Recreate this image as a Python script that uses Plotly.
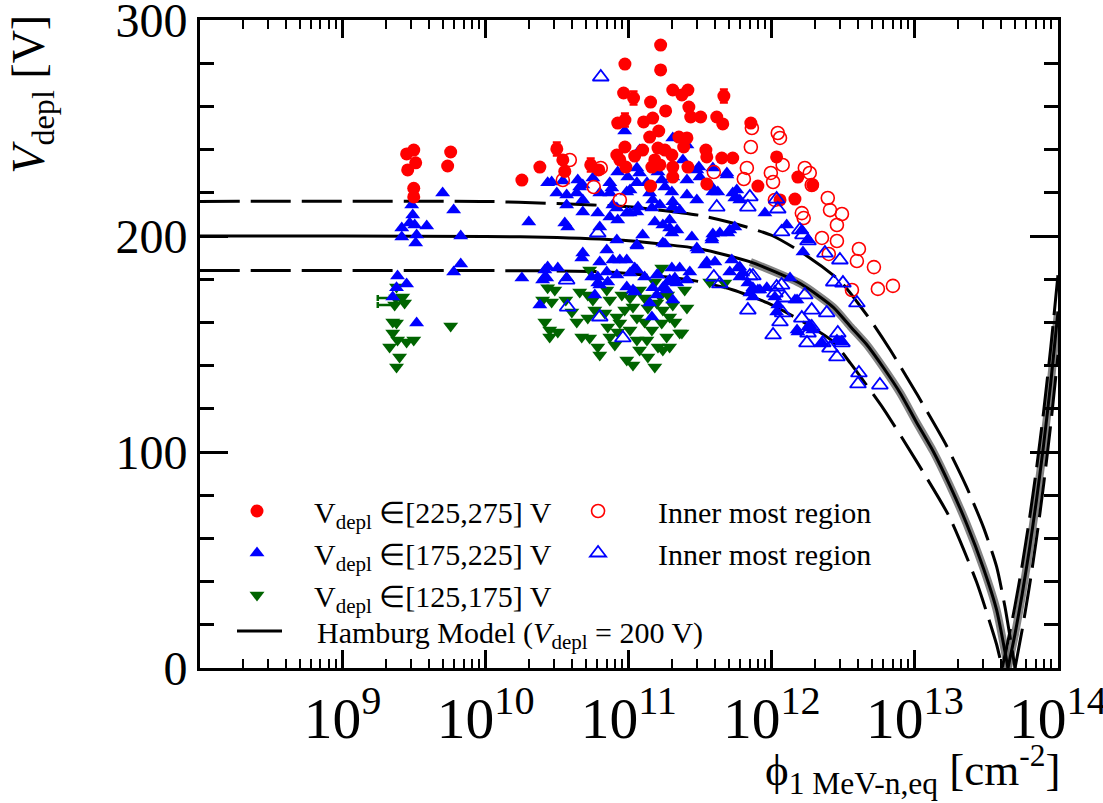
import plotly.graph_objects as go

# ---------------- measurements: fluence [cm^-2] and depletion voltage [V] ----------------
red_phi = [1.67e11, 9.4e10, 1.67e11, 9.2e10, 1.08e11, 1.42e11, 2.03e11, 2.35e11, 2.59e11, 4.62e11,
           1.81e11, 2.63e11, 2.71e11, 3.18e11, 4.12e11, 4.54e11, 7.13e11, 8.37e10, 9.4e10, 1.27e11,
           1.47e11, 1.62e11, 1.40e11, 2.24e11, 2.55e11, 2.42e11, 9.4e10, 3.14e10, 3.46e10, 2.39e10,
           1.79e10, 3.57e10, 5.42e10, 6.17e10, 8.25e10, 8.66e10, 9.54e10, 1.10e11, 1.25e11, 1.60e11,
           1.79e11, 2.00e11, 1.52e11, 1.45e11, 1.65e11, 2.03e11, 2.03e11, 2.59e11, 1.42e11, 3.46e11,
           3.51e11, 4.47e11, 5.33e11, 3.51e11, 7.99e11, 1.08e12, 1.52e12, 1.93e12, 1.45e12, 1.14e12,
           2.80e9, 3.14e9, 3.24e9, 2.85e9, 3.14e9, 3.14e9, 5.69e9, 5.42e9]
red_v = [288.4, 279.6, 276.9, 266.2, 263.9, 262.0, 267.6, 265.3, 267.6, 264.8,
         257.9, 259.7, 255.1, 255.1, 255.1, 251.9, 252.3, 252.3, 253.7, 252.8,
         254.6, 248.6, 245.8, 245.8, 245.4, 241.2, 241.2, 240.3, 235.2, 231.9,
         225.9, 229.9, 232.9, 230.6, 237.5, 235.2, 231.9, 237.0, 239.8, 240.7,
         239.8, 237.5, 235.2, 231.9, 232.9, 231.9, 227.3, 231.9, 223.1, 239.8,
         236.6, 236.1, 236.1, 224.1, 223.1, 236.6, 227.3, 223.6, 217.1, 216.7,
         238.0, 239.8, 233.9, 230.6, 222.1, 218.1, 238.9, 232.4]
red_err = [0, 0, 0, 0, 3, 0, 0, 0, 0, 3,
           0, 0, 0, 0, 0, 0, 0, 0, 3, 0,
           0, 0, 0, 0, 0, 0, 0, 3, 0, 0,
           0, 0, 3, 0, 0, 0, 0, 0, 0, 0,
           0, 0, 0, 0, 0, 0, 0, 0, 0, 0,
           0, 0, 0, 0, 0, 0, 0, 0, 0, 0,
           0, 0, 0, 0, 0, 0, 0, 0]

blue_phi = [5.0e9, 5.97e9, 6.69e9, 6.69e9, 5.97e9, 3.04e9, 3.09e9, 2.94e9, 3.19e9, 3.87e9,
            2.59e9, 2.59e9, 3.29e9, 3.24e9, 2.42e9, 2.80e9, 2.38e9, 2.24e9, 3.29e9,
            2.0e10, 1.79e10, 2.71e10, 2.59e10, 2.67e10, 2.39e10, 9.36e10, 1.19e11, 2.03e11, 2.55e11,
            2.89e10, 3.46e10, 4.40e10, 5.61e10, 4.77e10, 3.14e10, 3.68e10, 4.33e10, 4.54e10, 7.37e10,
            8.37e10, 9.84e10, 1.14e11, 1.60e11, 3.09e11, 3.87e11, 4.19e11, 4.85e11, 5.69e11, 5.97e11,
            8.94e11, 3.14e11, 2.55e11, 2.03e11, 1.79e11, 1.34e11, 1.14e11, 1.02e11, 7.37e10, 6.27e10,
            4.77e10, 3.68e10, 1.47e11, 2.03e11, 2.55e11, 2.99e11, 3.87e11, 7.61e10, 7.74e10, 9.68e10,
            1.16e11, 1.02e11, 1.19e11, 1.40e11, 1.70e11, 2.0e11, 2.03e11, 2.39e11, 2.99e11, 3.81e11,
            5.33e11, 5.51e11, 3.57e10, 3.74e10, 4.77e10, 6.07e10, 6.27e10, 7.37e10, 8.25e10, 9.68e10,
            1.14e11, 1.45e11, 1.65e11, 2.27e11, 1.52e11, 1.73e11, 1.93e11, 2.0e11, 8.37e10, 1.93e11,
            2.17e11, 8.25e10, 1.14e11, 1.25e11, 1.73e11, 2.76e11, 3.04e11, 3.87e11, 4.33e11, 4.93e11,
            5.51e11, 1.27e12, 1.62e12, 1.65e12, 1.79e12, 3.81e11, 5.08e11, 4.69e10, 7.02e10, 7.74e10,
            8.66e10, 9.68e10, 6.27e10, 4.77e10, 2.71e10, 3.19e10, 2.59e10, 3.68e10, 5.51e10, 6.07e10,
            7.02e10, 1.10e11, 1.29e11, 1.57e11, 2.0e11, 2.27e11, 2.67e11, 1.93e11, 2.10e11, 2.55e11,
            3.51e11, 4.0e11, 5.25e11, 5.79e11, 5.08e11, 5.97e11, 6.80e11, 7.37e11, 9.22e11, 8.25e11,
            1.34e12, 6.27e10, 9.68e10, 1.07e11, 1.47e11, 1.73e11, 2.03e11, 1.57e11, 5.79e10, 1.45e11,
            1.50e12, 1.50e12, 2.50e10, 6.07e10, 7.13e10, 8.25e10, 1.02e11, 1.14e11, 1.60e11, 1.87e11,
            2.17e11, 1.10e11, 1.40e11, 1.84e11, 3.40e11, 2.99e11, 3.81e11, 1.14e11, 1.79e11, 6.27e11,
            7.02e11, 7.99e11, 1.05e12, 1.10e12, 1.08e12, 1.45e12, 1.52e12, 1.79e12, 1.93e12, 2.24e12,
            2.85e12, 3.09e12, 5.97e11, 4.85e11, 7.37e11, 1.84e12]
blue_v = [219.9, 212.0, 200.0, 187.0, 183.3, 214.4, 209.7, 206.0, 205.1, 204.6,
          203.7, 199.5, 200.5, 196.8, 181.5, 177.8, 176.0, 171.8, 159.7,
          206.5, 180.6, 224.6, 184.3, 180.6, 168.1, 248.6, 239.8, 245.4, 242.1,
          225.0, 225.5, 225.9, 226.9, 223.6, 219.9, 219.0, 219.9, 222.7, 224.6,
          229.6, 227.3, 231.5, 229.6, 231.9, 231.5, 220.4, 229.2, 221.3, 216.7,
          210.6, 227.3, 225.9, 227.3, 222.7, 224.6, 224.6, 221.3, 219.9, 219.9,
          216.7, 214.4, 216.7, 215.8, 219.0, 216.7, 220.4, 222.2, 214.4, 220.4,
          213.4, 210.6, 229.2, 219.9, 225.9, 220.4, 213.4, 235.2, 230.6, 222.7,
          219.9, 217.6, 206.0, 204.2, 211.1, 210.6, 204.2, 208.8, 213.0, 210.6,
          211.1, 213.0, 214.4, 212.0, 206.5, 205.1, 203.7, 201.4, 207.4, 207.4,
          202.8, 198.1, 195.4, 200.5, 196.8, 199.5, 193.5, 200.9, 201.4, 201.4,
          204.2, 205.1, 202.8, 192.6, 198.1, 199.1, 202.8, 189.8, 193.5, 188.9,
          188.9, 188.9, 188.0, 192.1, 185.6, 185.2, 181.0, 180.6, 181.0, 181.0,
          183.3, 185.2, 181.0, 181.9, 185.2, 185.2, 183.3, 179.6, 180.6, 179.6,
          188.0, 188.0, 188.9, 185.2, 183.3, 181.0, 178.2, 176.0, 176.0, 175.0,
          180.6, 177.3, 176.4, 175.0, 176.0, 176.0, 170.4, 172.7, 172.7, 162.5,
          170.4, 156.5, 179.6, 178.2, 178.7, 181.9, 182.9, 184.3, 181.9, 178.7,
          178.2, 174.1, 169.0, 175.0, 186.6, 194.5, 198.1, 195.9, 196.3, 182.9,
          173.6, 175.0, 171.8, 168.1, 164.8, 170.4, 155.5, 157.9, 156.5, 150.5,
          151.9, 150.9, 185.6, 228.2, 171.8, 158.8]

green_phi = [2.38e9, 2.63e9, 2.35e9, 2.31e9, 2.71e9, 2.24e9, 2.38e9, 2.24e9, 2.42e9, 2.13e9,
             2.80e9, 3.14e9, 2.50e9, 2.38e9, 5.69e9,
             2.71e10, 3.04e10, 2.50e10, 2.89e10, 2.59e10, 2.80e10, 3.19e10, 2.80e10, 4.54e10, 5.17e10,
             5.61e10, 4.33e10, 4.69e10, 5.33e10, 6.07e10, 6.27e10, 7.02e10, 7.37e10, 6.80e10, 7.13e10,
             7.37e10, 8.25e10, 8.66e10, 1.02e11, 1.07e11, 1.02e11, 1.14e11, 1.34e11, 1.36e11, 9.68e10,
             1.07e11, 1.52e11, 1.70e11, 1.57e11, 1.73e11, 1.93e11, 1.70e11, 2.35e11, 1.84e11, 1.60e11,
             1.73e11, 1.93e11, 2.03e11, 2.55e11, 1.29e11, 1.14e11, 1.36e11, 8.37e10, 5.33e10, 3.68e11,
             4.69e11, 1.19e11, 1.29e11, 1.65e11, 1.45e11, 2.10e11, 1.87e11, 1.19e11, 7.99e10, 9.36e10,
             5.79e10, 3.63e10, 4.0e10, 2.27e11, 5.17e10, 8.94e10, 1.52e11, 2.46e11]
green_v = [176.4, 171.8, 171.3, 168.1, 169.0, 160.2, 159.7, 155.1, 151.9, 148.6,
           150.9, 151.9, 144.0, 139.4, 158.3,
           176.0, 175.0, 170.4, 169.5, 160.2, 156.5, 155.5, 153.2, 174.1, 172.7,
           170.4, 160.2, 153.2, 152.8, 148.6, 144.9, 175.0, 170.4, 164.4, 157.9,
           153.2, 162.5, 159.7, 171.3, 167.1, 156.5, 151.9, 151.9, 144.0, 142.6,
           140.3, 139.4, 185.2, 169.0, 165.7, 162.5, 159.7, 155.1, 153.2, 148.6,
           147.2, 148.6, 168.1, 166.7, 160.2, 162.0, 166.7, 155.5, 184.3, 178.7,
           178.2, 175.0, 171.3, 172.2, 156.5, 160.2, 172.7, 147.2, 149.5, 165.7,
           165.7, 170.4, 164.8, 155.1, 162.0, 172.7, 178.7, 175.0]
green_err_lo = [0, 0, 0.59e9, 0.55e9, 0, 0, 0, 0, 0, 0,
                0, 0, 0, 0, 0] + [0] * 68

red_in_phi = [3.87e10, 6.37e10, 3.46e10, 5.69e10, 8.66e10, 3.93e11, 7.25e11, 7.13e11, 1.10e12, 1.14e12,
              6.69e11, 6.37e11, 9.84e11, 1.19e12, 1.02e12, 1.05e12, 1.70e12, 1.84e12, 1.90e12, 2.46e12,
              2.55e12, 3.09e12, 1.62e12, 1.67e12, 2.85e12, 2.24e12, 2.85e12, 2.50e12, 4.06e12, 3.93e12,
              5.17e12, 3.63e12, 5.51e12, 7.02e12]
red_in_v = [235.2, 231.5, 225.9, 222.7, 216.7, 229.6, 250.0, 241.2, 247.7, 245.4,
            231.5, 226.4, 229.2, 232.9, 225.0, 216.7, 231.5, 229.2, 223.6, 217.6,
            212.0, 210.2, 210.6, 208.3, 205.1, 199.1, 197.7, 191.7, 194.0, 188.4,
            185.6, 175.0, 175.5, 176.9]

blue_in_phi = [6.37e10, 6.07e10, 3.74e10, 6.27e10, 9.09e10, 3.68e10, 4.12e11, 6.80e11, 7.02e11, 1.08e12,
               1.10e12, 1.17e12, 1.65e12, 1.79e12, 2.35e12, 2.99e12, 2.71e12, 3.14e12, 3.93e12, 7.02e11,
               7.37e11, 1.08e12, 1.17e12, 1.05e12, 1.23e12, 6.80e11, 1.70e12, 1.90e12, 2.42e12, 1.62e12,
               1.19e12, 1.14e12, 1.02e12, 1.90e12, 1.79e12, 1.76e12, 2.89e12, 2.27e12, 2.55e12, 3.09e12,
               2.85e12, 4.06e12, 4.0e12, 5.69e12, 3.93e11, 4.33e11, 1.57e12]
blue_in_v = [273.6, 201.4, 167.1, 162.5, 152.8, 179.6, 213.4, 213.4, 218.1, 217.1,
             212.5, 201.9, 200.5, 197.7, 192.1, 188.9, 178.7, 178.2, 169.0, 181.5,
             181.5, 176.4, 177.3, 173.6, 171.3, 165.7, 172.7, 165.7, 164.4, 162.0,
             164.4, 160.2, 154.2, 157.9, 155.1, 150.5, 155.1, 150.5, 148.1, 150.5,
             144.0, 136.6, 131.5, 131.0, 181.0, 177.8, 202.8]

# ---------------- Hamburg model curves (falling branch, then rising branch after inversion) ----------------
hm_phi_dn = [1e8, 1e9, 1e10, 3.16e10, 1e11, 3.16e11, 7.08e11, 1.58e12, 2.69e12, 3.55e12,
             4.57e12, 6.03e12, 7.94e12, 1.02e13, 1.35e13, 1.74e13, 2.29e13, 3.02e13, 3.72e13, 4.47e13]
hm_v_dn = [200, 200, 199.8, 199.3, 197.8, 194, 188, 178, 167, 158,
           150, 139, 127, 114, 100, 85, 67, 46, 27, 0]
hm_phi_up = [4.47e13, 5.01e13, 5.62e13, 6.31e13, 7.08e13, 7.94e13, 8.91e13, 1e14]
hm_v_up = [0, 15.8, 34.2, 54.9, 77.9, 103.4, 132.3, 165]

hi_phi_dn = [1e8, 1e10, 3.16e10, 1e11, 3.16e11, 6.03e11, 1.02e12, 1.74e12, 3.02e12, 4.9e12,
             6.76e12, 1.05e13, 1.66e13, 2.29e13, 3.02e13, 3.72e13, 4.27e13, 5.01e13]
hi_v_dn = [216, 216, 215, 213.5, 209.5, 205, 200, 191, 179, 161,
           147, 126, 103, 84, 65, 47, 28, 0]
hi_phi_up = [5.01e13, 5.62e13, 6.31e13, 7.08e13, 7.94e13, 8.91e13, 1e14]
hi_v_up = [0, 17.7, 37.7, 60, 85, 113, 145]

lo_phi_dn = [1e8, 1e10, 6.31e10, 1.86e11, 3.16e11, 5.37e11, 9.33e11, 1.58e12, 2.69e12, 3.55e12,
             6.03e12, 1.02e13, 1.74e13, 2.69e13, 3.72e13, 4.07e13]
lo_v_dn = [184, 184, 183.5, 181, 178.8, 175, 169, 161, 151, 141,
           120, 96, 70, 40, 11, 0]
lo_phi_up = [4.07e13, 4.47e13, 5.01e13, 5.62e13, 6.31e13, 7.08e13, 7.94e13, 8.91e13, 1e14]
lo_v_up = [0, 12.3, 28.9, 47.6, 68.8, 92.4, 118.8, 148.6, 182]

SERIF = "Liberation Serif, Times New Roman, serif"
DASH = "40px,11px"
NBSP = "\u00a0"

fig = go.Figure()

# uncertainty band of the central model
for px, py in ((hm_phi_dn[6:], hm_v_dn[6:]), (hm_phi_up, hm_v_up)):
    fig.add_trace(go.Scatter(x=px, y=py, mode="lines", showlegend=False, hoverinfo="skip",
                             line=dict(color="rgba(110,110,110,0.85)", width=8, shape="spline", smoothing=0.6)))

# dashed envelopes
for px, py in ((hi_phi_dn, hi_v_dn), (hi_phi_up, hi_v_up), (lo_phi_dn, lo_v_dn), (lo_phi_up, lo_v_up)):
    fig.add_trace(go.Scatter(x=px, y=py, mode="lines", showlegend=False, hoverinfo="skip",
                             line=dict(color="black", width=3, dash=DASH, shape="spline", smoothing=0.6)))

# central model
fig.add_trace(go.Scatter(x=hm_phi_dn, y=hm_v_dn, mode="lines", legend="legend3",
                         name=NBSP * 4 + "Hamburg Model (<i>V</i><sub>depl</sub> = 200 V)",
                         line=dict(color="black", width=3, shape="spline", smoothing=0.6)))
fig.add_trace(go.Scatter(x=hm_phi_up, y=hm_v_up, mode="lines", showlegend=False,
                         line=dict(color="black", width=3, shape="spline", smoothing=0.6)))

# measurements
fig.add_trace(go.Scatter(x=green_phi, y=green_v, mode="markers", legend="legend", legendrank=3,
                         name="V<sub>depl</sub> ∈[125,175] V",
                         marker=dict(symbol="triangle-down", size=13, color="#006400"),
                         error_x=dict(type="data", symmetric=False, array=[0] * len(green_phi),
                                      arrayminus=green_err_lo, color="#006400", thickness=2.5, width=3)))
fig.add_trace(go.Scatter(x=blue_phi, y=blue_v, mode="markers", legend="legend", legendrank=2,
                         name="V<sub>depl</sub> ∈[175,225] V",
                         marker=dict(symbol="triangle-up", size=13, color="#0000ff")))
fig.add_trace(go.Scatter(x=red_phi, y=red_v, mode="markers", legend="legend", legendrank=1,
                         name="V<sub>depl</sub> ∈[225,275] V",
                         marker=dict(symbol="circle", size=13, color="#ff0000"),
                         error_y=dict(type="data", array=red_err, color="#ff0000", thickness=2.5, width=4)))
fig.add_trace(go.Scatter(x=red_in_phi, y=red_in_v, mode="markers", legend="legend2", legendrank=1,
                         name="Inner most region",
                         marker=dict(symbol="circle-open", size=13, color="#ff0000", line=dict(width=1.6))))
fig.add_trace(go.Scatter(x=blue_in_phi, y=blue_in_v, mode="markers", legend="legend2", legendrank=2,
                         name="Inner most region",
                         marker=dict(symbol="triangle-up-open", size=14, color="#0000ff", line=dict(width=1.8))))

axis_common = dict(showline=True, linewidth=3, linecolor="black", mirror="allticks",
                   ticks="inside", tickwidth=3, tickcolor="black", showgrid=False, zeroline=False,
                   ticklabeloverflow="allow", automargin=False)

legend_font = dict(family=SERIF, size=30, color="black")

fig.update_layout(
    width=1103, height=803,
    margin=dict(l=200, r=45, t=20, b=135, autoexpand=False),
    paper_bgcolor="white", plot_bgcolor="white",
    font=dict(family=SERIF, color="black"),
    xaxis=dict(type="log", range=[8.003, 14.0001], dtick=1, exponentformat="power", ticklen=18,
               tickfont=dict(family=SERIF, size=46, color="black"),
               minor=dict(ticks="inside", ticklen=9, tickwidth=2, tickcolor="black", dtick="D1", showgrid=False),
               **axis_common),
    yaxis=dict(range=[0, 300], dtick=100, ticklen=28,
               tickfont=dict(family=SERIF, size=48, color="black"),
               minor=dict(ticks="inside", ticklen=14, tickwidth=3, tickcolor="black", dtick=20, showgrid=False),
               **axis_common),
    legend=dict(x=0.0, y=0.2824, xanchor="left", yanchor="top", bgcolor="rgba(0,0,0,0)",
                itemwidth=104, font=legend_font, traceorder="normal"),
    legend2=dict(x=0.394, y=0.2824, xanchor="left", yanchor="top", bgcolor="rgba(0,0,0,0)",
                 itemwidth=110, font=legend_font, traceorder="normal"),
    legend3=dict(x=0.0373, y=0.0972, xanchor="left", yanchor="top", bgcolor="rgba(0,0,0,0)",
                 itemwidth=45, font=legend_font),
    annotations=[
        dict(text="<i>V</i><sub>depl</sub> [V]", xref="paper", yref="paper", x=-0.196, y=0.886,
             xanchor="center", yanchor="middle", textangle=-90, showarrow=False,
             font=dict(family=SERIF, size=46, color="black")),
        dict(text="ϕ<sub>1 MeV-n,eq</sub> [cm<sup>-2</sup>]", xref="paper", yref="paper", x=1.005, y=-0.156,
             xanchor="right", yanchor="middle", showarrow=False,
             font=dict(family=SERIF, size=45, color="black")),
    ],
)

fig.write_html("out.html")
